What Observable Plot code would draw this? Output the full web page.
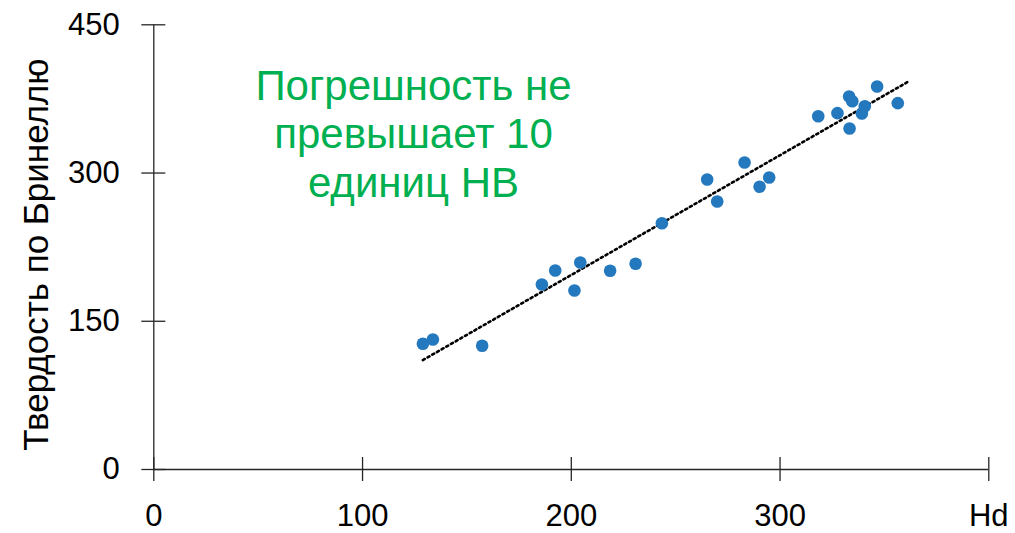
<!DOCTYPE html>
<html>
<head>
<meta charset="utf-8">
<script src="https://cdn.jsdelivr.net/npm/d3@7"></script>
<script src="https://cdn.jsdelivr.net/npm/@observablehq/plot@0.6"></script>
<style>
  html, body { margin: 0; padding: 0; background: #fff; }
  #chart svg { display: block; }
</style>
</head>
<body>
<div id="chart"></div>
<script>
// Measured Hd values (x) and Brinell hardness (y)
const hd = [128.9, 133.7, 157.3, 185.9, 192.3, 201.5, 204.3, 218.6, 230.8, 243.4, 265.1, 269.9,
            283.0, 290.2, 294.8, 318.3, 327.5, 333.1, 334.6, 333.3, 339.2, 340.6, 346.5, 356.4];
const hb = [127.2, 131.6, 125.2, 187.2, 201.4, 181.1, 209.5, 201.1, 208.2, 249.2, 293.5, 271.2,
            310.7, 286.1, 295.5, 357.5, 360.6, 377.5, 372.7, 345.1, 360.2, 367.6, 387.6, 370.7];
const xTicks = [0, 100, 200, 300, 400];
const yTicks = [0, 150, 300, 450];
const xAxisTitle = "Hd";
const yAxisTitle = "Твердость по Бринеллю";
const noteText = "Погрешность не\nпревышает 10\nединиц НВ";
const trendForward = 5; // trendline forecast forward (units of Hd)

const points = hd.map((x, i) => ({x, y: hb[i]}));

// Linear least-squares trendline
const mx = d3.mean(hd), my = d3.mean(hb);
const slope = d3.sum(hd, (x, i) => (x - mx) * (hb[i] - my)) / d3.sum(hd, x => (x - mx) ** 2);
const intercept = my - slope * mx;
const trendX = [d3.min(hd), d3.max(hd) + trendForward];
const trend = trendX.map(x => ({x, y: intercept + slope * x}));

const axisColor = "#262626";
const font = "'Liberation Sans', Arial, sans-serif";

const chart = Plot.plot({
  width: 1015,
  height: 533,
  marginLeft: 153.3,
  marginRight: 26.7,
  marginTop: 24.3,
  marginBottom: 64,
  style: {fontFamily: font, background: "#fff", color: "#000"},
  x: {domain: [0, 400]},
  y: {domain: [0, 450]},
  marks: [
    Plot.ruleY([0], {stroke: axisColor, strokeWidth: 1.3}),
    Plot.ruleX([0], {stroke: axisColor, strokeWidth: 1.3}),
    // crossing tick marks
    Plot.axisX({ticks: xTicks, tickSize: 24, dy: -12, tickFormat: () => "", label: null, stroke: axisColor, strokeWidth: 1.3}),
    Plot.axisY({ticks: yTicks, tickSize: 24, dx: 12, tickFormat: () => "", label: null, stroke: axisColor, strokeWidth: 1.3}),
    // tick labels
    Plot.axisX({ticks: xTicks, tickSize: 0, tickPadding: 34, label: null, fontSize: 31, fill: "#000",
                tickFormat: d => d === 400 ? xAxisTitle : String(d)}),
    Plot.axisY({ticks: yTicks, tickSize: 0, tickPadding: 34, label: null, fontSize: 31, fill: "#000"}),
    // y axis title
    Plot.text([yAxisTitle], {frameAnchor: "left", rotate: -90, lineAnchor: "top", textAnchor: "middle",
                             dx: -131, dy: 7.5, fontSize: 35, fill: "#000"}),
    // annotation
    Plot.text([noteText], {frameAnchor: "top-left", textAnchor: "middle", lineAnchor: "top",
                           dx: 259.7, dy: 40.7, fontSize: 42, lineHeight: 1.155, fill: "#00B050"}),
    // trendline
    Plot.line(trend, {x: "x", y: "y", stroke: "#000", strokeWidth: 2.6, strokeDasharray: "2.2,3.2"}),
    // points
    Plot.dot(points, {x: "x", y: "y", r: 6.3, fill: "#2378BE", stroke: "none"})
  ]
});
document.getElementById("chart").appendChild(chart);
</script>
</body>
</html>
